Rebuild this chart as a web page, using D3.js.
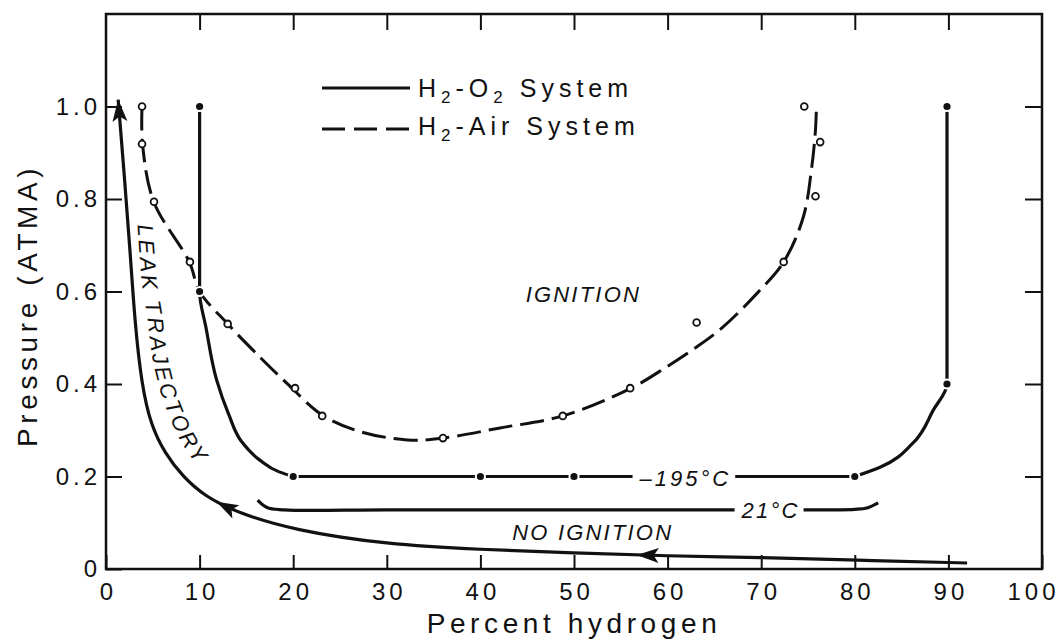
<!DOCTYPE html>
<html><head><meta charset="utf-8">
<script src="https://cdn.jsdelivr.net/npm/d3@7"></script>
<style>
body{margin:0;background:#fff}
text{font-family:"Liberation Sans",Arial,Helvetica,sans-serif;fill:#111}
</style>
</head><body>
<svg id="chart" width="1062" height="643"></svg>
<script>
// ---------- data ----------
const xTickValues = [0,10,20,30,40,50,60,70,80,90,100];
const xTickLabels = ["0","10","20","30","40","50","60","70","80","90","100"];
const yTickValues = [0,0.2,0.4,0.6,0.8,1.0];
const yTickLabels = ["0","0.2","0.4","0.6","0.8","1.0"];
const innerXTicks = [10,20,30,40,50,60,70,80,90];
const innerYTicks = [0.2,0.4,0.6,0.8,1.0];

// H2-O2 system at -195 C (solid line): left branch, floor, right branch
const o2ColdLeftBranch = [[10,1.0],[10,0.6],[10.7,0.52],[11.8,0.41],[13.1,0.335],[14.5,0.275],[16.4,0.236],[18.5,0.21],[20,0.2]];
const o2ColdFloor = [[20,0.2],[80,0.2]];
const o2ColdRightBranch = [[80,0.2],[82.7,0.22],[86.2,0.272],[88.4,0.344],[89.85,0.4],[89.85,1.0]];
const o2ColdDots = [[10,1.0],[10,0.6],[20,0.2],[40,0.2],[50,0.2],[80,0.2],[89.85,0.4],[89.85,1.0]];

// H2-O2 system at 21 C (solid line)
const o2WarmCurve = [[16.2,0.149],[17.2,0.133],[19,0.128],[30,0.128],[50,0.128],[70,0.128],[80,0.129],[81.3,0.132],[82.5,0.143]];

// H2-Air system (dashed line) and its measured points
const airCurve = [[3.85,1.0],[3.9,0.92],[5.1,0.794],[8.9,0.664],[10.0,0.60],[13.0,0.53],[16.45,0.458],[19.3,0.402],[23.1,0.333],
  [27,0.298],[32.2,0.279],[36,0.283],[42.1,0.305],[48.8,0.331],[56,0.39],[59.9,0.437],[63.1,0.48],[65.9,0.523],[69.6,0.597],
  [72.4,0.664],[74.5,0.761],[75.4,0.869],[75.8,0.95],[75.9,1.0]];
const airPoints = [[3.85,1.0],[3.85,0.919],[5.13,0.794],[8.97,0.664],[13.0,0.53],[20.2,0.391],[23.1,0.331],[36.0,0.283],
  [48.8,0.331],[56.0,0.391],[63.1,0.533],[72.4,0.664],[75.8,0.806],[76.3,0.923],[74.6,1.0]];

// Leak trajectory (from right end to the arrow tip)
const leakTrajectory = [[92,0.013],[80,0.019],[70,0.025],[60,0.028],[50,0.035],[40,0.042],[30,0.053],[20,0.084],[14,0.122],
  [10.5,0.158],[8.2,0.2],[6.3,0.25],[4.8,0.31],[3.8,0.40],[3.1,0.53],[2.6,0.68],[2.0,0.84],[1.3,1.015]];
const leakArrowX = [56.7, 11.8];   // intermediate arrowheads (x positions on the trajectory)
const leakLabelPath = [[3.37,0.744],[3.85,0.614],[4.38,0.549],[4.91,0.462],[5.77,0.387],[6.84,0.326],[8.23,0.268],[10.04,0.218],[11,0.2]];

// ---------- layout ----------
const svg = d3.select("#chart");
const x = d3.scaleLinear().domain([0,100]).range([106,1042]);
const y = d3.scaleLinear().domain([0,1.2]).range([569,14]);
const INK = "#111";
const tickFont = "24px";

// frame
svg.append("rect").attr("x",x(0)).attr("y",y(1.2)).attr("width",x(100)-x(0)).attr("height",y(0)-y(1.2))
  .attr("fill","none").attr("stroke",INK).attr("stroke-width",2.5);

function styleAxis(g){
  g.select(".domain").remove();
  g.selectAll(".tick line").attr("stroke",INK).attr("stroke-width",2);
  g.selectAll(".tick text").style("font-size",tickFont).style("letter-spacing","4px").attr("fill",INK);
}
svg.append("g").attr("transform",`translate(0,${y(0)})`)
  .call(d3.axisBottom(x).tickValues(xTickValues).tickFormat((d,i)=>xTickLabels[i]).tickSize(-14).tickPadding(14))
  .call(styleAxis)
  .call(g=>g.selectAll(".tick text").attr("dx",(d,i,n)=> i===n.length-1 ? "-9px" : "2px"));
svg.append("g").attr("transform",`translate(${x(0)},0)`)
  .call(d3.axisLeft(y).tickValues(yTickValues).tickFormat((d,i)=>yTickLabels[i]).tickSize(-16).tickPadding(5))
  .call(styleAxis);
svg.append("g").attr("transform",`translate(0,${y(1.2)})`)
  .call(d3.axisTop(x).tickValues(innerXTicks).tickFormat("").tickSize(-16)).call(styleAxis);
svg.append("g").attr("transform",`translate(${x(100)},0)`)
  .call(d3.axisRight(y).tickValues(innerYTicks).tickFormat("").tickSize(-17)).call(styleAxis);

// axis titles
svg.append("text").attr("x",(x(0)+x(100))/2).attr("y",633).attr("text-anchor","middle")
  .style("font-size","28px").style("letter-spacing","4.6px").text("Percent hydrogen");
svg.append("text").attr("transform",`translate(37,${y(0.57)}) rotate(-90)`).attr("text-anchor","middle")
  .style("font-size","28px").style("letter-spacing","4.6px").text("Pressure (ATMA)");

const line = d3.line().x(d=>x(d[0])).y(d=>y(d[1]));
const smooth = d3.line().x(d=>x(d[0])).y(d=>y(d[1])).curve(d3.curveCatmullRom.alpha(0.5));
const monoY = d3.line().x(d=>x(d[0])).y(d=>y(d[1])).curve(d3.curveMonotoneY);
const basis = d3.line().x(d=>x(d[0])).y(d=>y(d[1])).curve(d3.curveBasis);

// H2-Air dashed curve
svg.append("path").attr("d",smooth(airCurve)).attr("fill","none").attr("stroke",INK)
  .attr("stroke-width",3).attr("stroke-dasharray","24,8");

// -195 C curve
[monoY(o2ColdLeftBranch), line(o2ColdFloor), monoY(o2ColdRightBranch)].forEach(d=>
  svg.append("path").attr("d",d).attr("fill","none").attr("stroke",INK).attr("stroke-width",3.2));
// 21 C curve
svg.append("path").attr("d",smooth(o2WarmCurve)).attr("fill","none").attr("stroke",INK).attr("stroke-width",3.2);

// leak trajectory
const leakPath = svg.append("path").attr("d",basis(leakTrajectory)).attr("fill","none").attr("stroke",INK).attr("stroke-width",3.2);
const lp = leakPath.node(), L = lp.getTotalLength();
function arrowAt(len){
  const p = lp.getPointAtLength(len), q = lp.getPointAtLength(Math.max(0,len-4));
  const a = Math.atan2(p.y-q.y, p.x-q.x)*180/Math.PI;
  svg.append("path").attr("d","M0,0 L-22,-7.5 L-17,0 L-22,7.5 Z").attr("fill",INK)
    .attr("transform",`translate(${p.x},${p.y}) rotate(${a})`);
}
leakArrowX.forEach(xv=>{
  let lo=0, hi=L;
  for(let i=0;i<40;i++){ const m=(lo+hi)/2; if(lp.getPointAtLength(m).x > x(xv)) lo=m; else hi=m; }
  arrowAt((lo+hi)/2);
});
arrowAt(L);

// labels with white background (interrupting lines)
function gapLabel(txt, xv, yv, dy, spacing){
  const g = svg.append("g");
  const t = g.append("text").attr("x",x(xv)).attr("y",y(yv)).attr("dy",dy).attr("text-anchor","middle")
    .style("font-size","22px").style("font-style","italic").style("letter-spacing",spacing).text(txt);
  const b = t.node().getBBox();
  g.insert("rect","text").attr("x",b.x-6).attr("y",b.y+2).attr("width",b.width+10).attr("height",b.height-4).attr("fill","#fff");
}
gapLabel("\u2013195\u00B0C", 61.9, 0.2, "0.42em", "3px");
gapLabel("21\u00B0C", 71.0, 0.128, "0.38em", "2.2px");

// dots
svg.append("g").selectAll("circle").data(o2ColdDots).join("circle")
  .attr("cx",d=>x(d[0])).attr("cy",d=>y(d[1])).attr("r",4.6).attr("fill",INK).attr("stroke","#fff").attr("stroke-width",2);
svg.append("g").selectAll("circle").data(airPoints).join("circle")
  .attr("cx",d=>x(d[0])).attr("cy",d=>y(d[1])).attr("r",3.4).attr("fill","#fff").attr("stroke",INK).attr("stroke-width",1.8);

// region labels
svg.append("text").attr("x",x(51)).attr("y",y(0.577)).attr("text-anchor","middle")
  .style("font-size","22px").style("font-style","italic").style("letter-spacing","2.2px").text("IGNITION");
svg.append("text").attr("x",x(52)).attr("y",y(0.063)).attr("text-anchor","middle")
  .style("font-size","22px").style("font-style","italic").style("letter-spacing","2.2px").text("NO IGNITION");

// leak label along the trajectory
svg.append("path").attr("id","leakLabelPath").attr("d",smooth(leakLabelPath)).attr("fill","none");
svg.append("text").style("font-size","22px").style("font-style","italic").style("letter-spacing","3px")
  .append("textPath").attr("href","#leakLabelPath").attr("startOffset","0").text("LEAK TRAJECTORY");

// legend
const lg = svg.append("g");
lg.append("line").attr("x1",322).attr("x2",410).attr("y1",88).attr("y2",88).attr("stroke",INK).attr("stroke-width",3);
lg.append("line").attr("x1",322).attr("x2",410).attr("y1",129).attr("y2",129).attr("stroke",INK).attr("stroke-width",3).attr("stroke-dasharray","23,9");
function legendText(yb, parts){
  const t = lg.append("text").attr("x",418).attr("y",yb).style("font-size","25px").style("letter-spacing","5px");
  parts.forEach(p=>{
    const s = t.append("tspan").text(p[0]);
    if(p[1]) s.style("font-size","17px").attr("dy","6");
    else if(p[2]) s.attr("dy","-6");
  });
}
legendText(97, [["H"],["2",true],["-O",false,true],["2",true],[" System",false,true]]);
legendText(135,[["H"],["2",true],["-Air System",false,true]]);
</script>
</body></html>
